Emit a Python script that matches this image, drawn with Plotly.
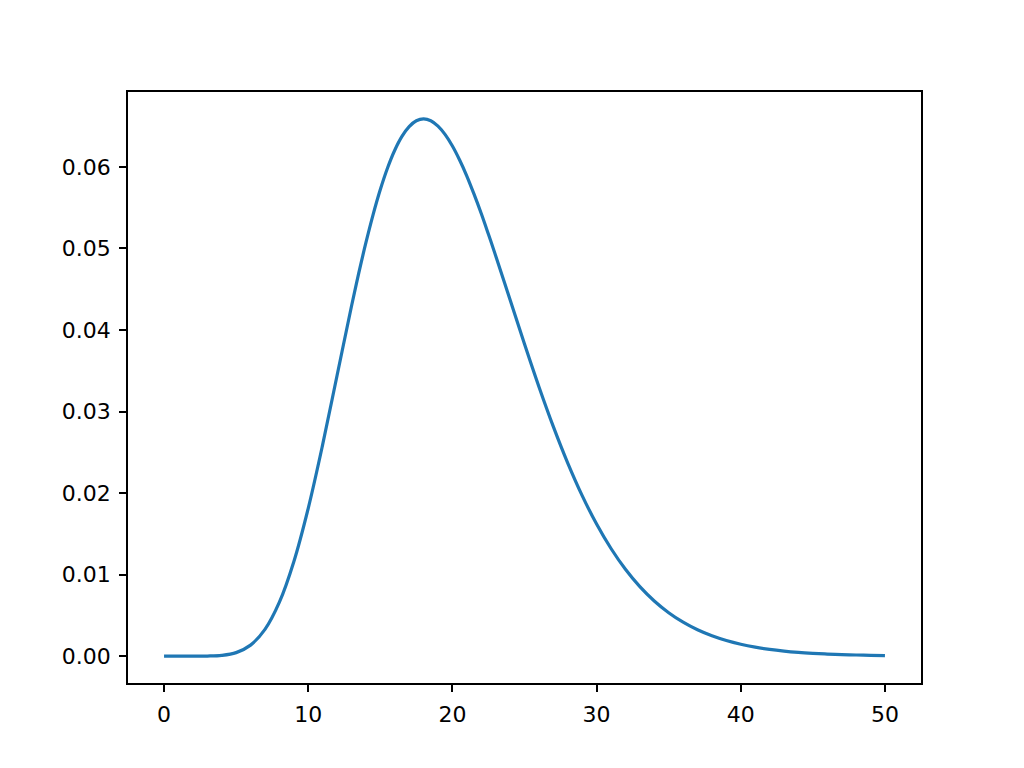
import plotly.graph_objects as go

x_values = [
    0, 1, 2, 3, 4, 5, 6, 7, 8, 9, 10, 11, 12, 13, 13.5, 14, 14.5, 15, 15.5,
    16, 16.5, 17, 17.5, 18, 18.5, 19, 19.5, 20, 20.5, 21, 21.5, 22, 22.5,
    23, 24, 25, 26, 27, 28, 29, 30, 31, 32, 33, 34, 35, 36, 37, 38, 39, 40,
    41, 42, 43, 44, 45, 46, 47, 48, 49, 50,
]
y_values = [
    0.0, 0.0000000016, 0.000000507, 0.0000118, 0.0000953, 0.000431,
    0.001350, 0.003279, 0.006616, 0.011582, 0.018133,
    0.025933, 0.034419, 0.042905, 0.046930, 0.050702, 0.054152, 0.057220, 0.059860,
    0.062039, 0.063733, 0.064934, 0.065655, 0.065885, 0.065664, 0.065001, 0.063955,
    0.062555, 0.060842, 0.058877, 0.056652, 0.054279, 0.051733,
    0.049114, 0.043696, 0.038272,
    0.033038, 0.028141, 0.023678, 0.019690, 0.016200,
    0.013199, 0.010652, 0.008522, 0.006760, 0.005324,
    0.004161, 0.003229, 0.002490, 0.001908, 0.001453,
    0.001100, 0.000829, 0.000622, 0.000464, 0.000344,
    0.000254, 0.000187, 0.000137, 0.000100, 0.0000728,
]
x_ticks = [0, 10, 20, 30, 40, 50]
y_ticks = [0.00, 0.01, 0.02, 0.03, 0.04, 0.05, 0.06]

fig = go.Figure()
fig.add_trace(go.Scatter(
    x=x_values, y=y_values, mode="lines",
    line=dict(color="#1f77b4", width=3.2, shape="spline", smoothing=1.0),
    showlegend=False, hoverinfo="skip",
))

axis_common = dict(
    showgrid=False, zeroline=False, showline=True, linecolor="black",
    linewidth=1.6, mirror=True, ticks="outside", ticklen=7, tickwidth=1.6,
    tickcolor="black", tickfont=dict(family="DejaVu Sans", size=22, color="black"),
    ticklabelstandoff=4,
)
fig.update_xaxes(range=[-2.5, 52.5], tickvals=x_ticks,
                 ticktext=[str(v) for v in x_ticks], **axis_common)
fig.update_yaxes(range=[-0.003294, 0.069181], tickvals=y_ticks,
                 ticktext=[f"{v:.2f}" for v in y_ticks], **axis_common)

fig.update_layout(
    width=1024, height=768,
    margin=dict(l=120, r=111, t=84, b=93),
    paper_bgcolor="white", plot_bgcolor="white",
)
fig.write_html("out.html")
